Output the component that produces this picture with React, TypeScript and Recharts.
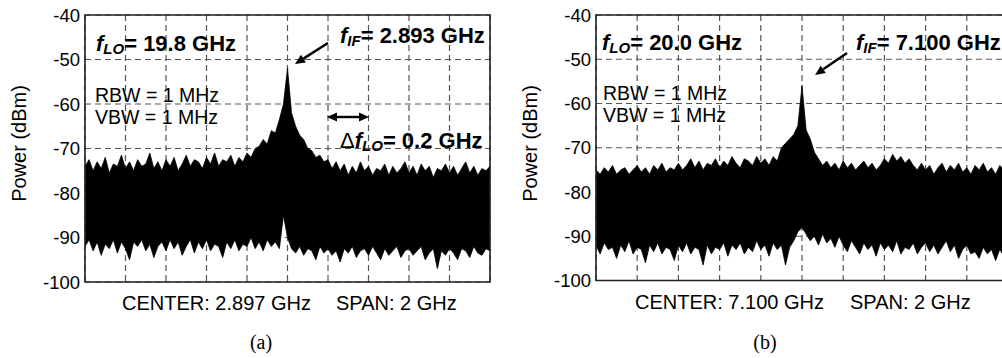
import React from 'react';
import { ComposedChart, Area, XAxis, YAxis, CartesianGrid, ReferenceArea } from 'recharts';

// spectrum analyser traces, 101 samples across a 2 GHz span (20 MHz apart)
const spanStepGHz = 0.02;
const startA = 1.897;
const startB = 6.1;

const powerTicks = [-100, -90, -80, -70, -60, -50, -40];
const freqTicksA = [1.897, 2.097, 2.297, 2.497, 2.697, 2.897, 3.097, 3.297, 3.497, 3.697, 3.897];
const freqTicksB = [6.1, 6.3, 6.5, 6.7, 6.9, 7.1, 7.3, 7.5, 7.7, 7.9, 8.1];

// (a) upper / lower envelope of the trace, dBm
const upperA = [
  -74, -72.5, -75, -73, -74.5, -72, -75.5, -73.5, -74, -71.5,
  -74.5, -73, -75, -72.5, -74, -73.5, -71, -74.5, -73, -75,
  -72.5, -74, -72, -75, -73.5, -71.5, -74, -72.5, -73, -74.5,
  -72, -73.5, -71, -74, -72.5, -73, -71.5, -74, -72, -73,
  -71, -72, -70, -69.5, -68, -69, -66, -66.5, -63.5, -60,
  -52, -62, -65, -67, -68, -70, -70.5, -72, -71.5, -73,
  -72.5, -74.5, -73, -75, -73.5, -76, -74, -75.5, -73, -75,
  -74, -76, -74.5, -75, -73.5, -76, -74, -75.5, -74.5, -73,
  -75.5, -74, -76, -73.5, -75, -74, -76.5, -74.5, -75, -73.5,
  -75.5, -74, -76, -74.5, -73, -75.5, -74, -76, -74.5, -75,
  -74,
];
const lowerA = [
  -92, -90.5, -93, -91, -94, -91.5, -92.5, -90.5, -93.5, -91,
  -92.5, -95, -91, -92, -90.5, -93, -91.5, -94.5, -92, -91,
  -93, -90.5, -92.5, -91, -94, -92, -90.5, -93.5, -91, -92.5,
  -90.5, -93, -91.5, -92, -94.5, -91, -92.5, -90.5, -93, -91.5,
  -92, -90, -92.5, -91, -93, -90.5, -92, -91, -92.5, -85,
  -90, -92.5, -93.5, -92, -94, -92.5, -93, -95, -92, -93.5,
  -92.5, -94, -93, -95.5, -92.5, -93.5, -92, -94.5, -93, -92.5,
  -94, -92, -93.5, -95, -92.5, -94, -93, -92, -94.5, -93,
  -92.5, -94, -93, -92, -95, -93.5, -92.5, -97, -93, -94,
  -92.5, -93.5, -95, -92.5, -93, -94.5, -92, -93.5, -94, -92.5,
  -93,
];

// (b)
const upperB = [
  -75, -76, -74.5, -75.5, -74, -76, -75, -74.5, -76, -75,
  -74, -75.5, -74.5, -76, -74, -75, -73.5, -75.5, -74.5, -75,
  -73.5, -75, -74, -72.5, -74.5, -73, -75, -73.5, -74, -72.5,
  -74.5, -73, -74, -72, -73.5, -74.5, -72.5, -73, -74, -72,
  -73.5, -72.5, -74, -72, -73, -70, -69, -68, -67, -65,
  -56, -66, -68, -71, -72.5, -74, -73, -74.5, -73.5, -75,
  -73, -74.5, -73.5, -75, -74, -73, -74.5, -73.5, -75, -74,
  -72.5, -73.5, -71.5, -73, -72, -73.5, -72.5, -74, -75, -73.5,
  -75, -74, -76, -74.5, -73.5, -75.5, -74, -75, -73.5, -75.5,
  -74.5, -76, -74, -75, -73.5, -75.5, -74.5, -76, -74, -75,
  -74.5,
];
const lowerB = [
  -92, -94, -91.5, -93, -92.5, -95, -92, -93.5, -91, -94,
  -92.5, -93, -96, -92, -93.5, -91.5, -94, -92.5, -93, -95.5,
  -92, -93.5, -91.5, -94, -92.5, -93, -96.5, -92, -94, -92.5,
  -93, -91.5, -94.5, -92, -93, -91.5, -94, -92.5, -93.5, -91,
  -93, -92, -94.5, -91.5, -93, -92, -96.5, -92.5, -91, -89,
  -88, -89.5, -91, -90, -92, -89.5, -91.5, -90.5, -92.5, -90,
  -92, -93.5, -91, -92.5, -94, -91.5, -93, -92, -94.5, -91.5,
  -93, -92, -93.5, -91, -94, -92.5, -93, -91.5, -94, -92.5,
  -91.5, -93.5, -92, -94, -92.5, -91, -93.5, -92, -95, -93,
  -92, -94, -93.5, -95, -92.5, -94, -93, -95.5, -93, -94.5,
  -93.5,
];

const FONT = "'Liberation Sans', Arial, Helvetica, sans-serif";

const toRows = (start: number, upper: number[], lower: number[]) =>
  upper.map((hi, i) => ({ f: +(start + i * spanStepGHz).toFixed(3), range: [lower[i], hi] }));

const dataA = toRows(startA, upperA, lowerA);
const dataB = toRows(startB, upperB, lowerB);

interface PanelProps {
  data: { f: number; range: number[] }[];
  ticks: number[];
  left: number;
  width: number;
  marginLeft: number;
  marginRight: number;
  marginBottom: number;
}

const Panel: React.FC<PanelProps> = ({ data, ticks, left, width, marginLeft, marginRight, marginBottom }) => {
  // vertical divisions go through the x axis scale
  const vGen = (props: any) => {
    const scale = props?.xAxis?.scale;
    if (typeof scale === 'function') return ticks.map((t) => scale(t));
    if (scale && typeof scale.map === 'function') return ticks.map((t) => scale.map(t));
    return [];
  };
  return (
    <div style={{ position: 'absolute', left, top: 0 }}>
      <ComposedChart
        width={width}
        height={358}
        data={data}
        margin={{ top: 15, right: marginRight, bottom: marginBottom, left: marginLeft }}
      >
        <CartesianGrid
          stroke="#555"
          strokeWidth={1.2}
          strokeDasharray="6 4"
          verticalCoordinatesGenerator={vGen}
        />
        <XAxis
          type="number"
          dataKey="f"
          domain={[ticks[0], ticks[ticks.length - 1]]}
          ticks={ticks}
          tick={() => <g />}
          axisLine={false}
          tickLine={false}
          height={0}
        />
        <YAxis
          type="number"
          domain={[-100, -40]}
          ticks={powerTicks}
          width={60}
          axisLine={false}
          tickLine={false}
          tickSize={0}
          tickMargin={5}
          tick={{ fontSize: 18.5, fill: '#000', fontFamily: FONT }}
        />
        <Area
          type="linear"
          dataKey="range"
          stroke="#000"
          strokeWidth={0.8}
          fill="#000"
          fillOpacity={1}
          dot={false}
          activeDot={false}
          isAnimationActive={false}
        />
        <ReferenceArea
          x1={ticks[0]}
          x2={ticks[ticks.length - 1]}
          y1={-100}
          y2={-40}
          fill="none"
          stroke="#222"
          strokeWidth={1.6}
          ifOverflow="visible"
        />
      </ComposedChart>
    </div>
  );
};

const Arrow: React.FC<{ x1: number; y1: number; x2: number; y2: number; both?: boolean }> = ({ x1, y1, x2, y2, both }) => {
  const len = Math.hypot(x2 - x1, y2 - y1);
  const ux = (x2 - x1) / len;
  const uy = (y2 - y1) / len;
  const hl = 10;
  const hw = 4.5;
  const head = (tx: number, ty: number, dx: number, dy: number) => {
    const bx = tx - dx * hl;
    const by = ty - dy * hl;
    return `${tx},${ty} ${bx - dy * hw},${by + dx * hw} ${bx + dy * hw},${by - dx * hw}`;
  };
  const sx = both ? x1 + ux * hl : x1;
  const sy = both ? y1 + uy * hl : y1;
  return (
    <g>
      <line x1={sx} y1={sy} x2={x2 - ux * hl} y2={y2 - uy * hl} stroke="#000" strokeWidth={2.4} />
      <polygon points={head(x2, y2, ux, uy)} fill="#000" />
      {both && <polygon points={head(x1, y1, -ux, -uy)} fill="#000" />}
    </g>
  );
};

const FreqLabel: React.FC<{ x: number; y: number; sub: string; rest: string; delta?: boolean }> = ({ x, y, sub, rest, delta }) => (
  <text x={x} y={y} fontFamily={FONT} fontSize={22} fontWeight="bold" fill="#000">
    {delta && <tspan fontWeight="normal">Δ</tspan>}
    <tspan fontStyle="italic">f</tspan>
    <tspan fontStyle="italic" fontSize={15} dy={3}>{sub}</tspan>
    <tspan dy={-3}>{rest}</tspan>
  </text>
);

const App: React.FC = () => (
  <div style={{ position: 'absolute', left: 0, top: 0, width: 1002, height: 358, overflow: 'hidden', background: '#fff', fontFamily: FONT }}>
    <Panel data={dataA} ticks={freqTicksA} left={0} width={500} marginLeft={25} marginRight={10} marginBottom={76} />
    <Panel data={dataB} ticks={freqTicksB} left={500} width={520} marginLeft={36} marginRight={12} marginBottom={77.5} />

    <svg width={1002} height={358} style={{ position: 'absolute', left: 0, top: 0, pointerEvents: 'none' }}>
      {/* axis titles */}
      <text x={19} y={143.5} transform="rotate(-90 19 143.5)" textAnchor="middle" dominantBaseline="central" fontFamily={FONT} fontSize={20} fill="#000">Power (dBm)</text>
      <text x={530} y={143.5} transform="rotate(-90 530 143.5)" textAnchor="middle" dominantBaseline="central" fontFamily={FONT} fontSize={20} fill="#000">Power (dBm)</text>

      <text x={122} y={309.5} fontFamily={FONT} fontSize={20} fill="#000">CENTER: 2.897 GHz</text>
      <text x={336} y={309.5} fontFamily={FONT} fontSize={20} fill="#000">SPAN: 2 GHz</text>
      <text x={635} y={308.5} fontFamily={FONT} fontSize={20} fill="#000">CENTER: 7.100 GHz</text>
      <text x={850} y={308.5} fontFamily={FONT} fontSize={20} fill="#000">SPAN: 2 GHz</text>

      <text x={261} y={349} textAnchor="middle" fontFamily="'Liberation Serif', 'Times New Roman', serif" fontSize={20} fill="#000">(a)</text>
      <text x={765} y={349} textAnchor="middle" fontFamily="'Liberation Serif', 'Times New Roman', serif" fontSize={20} fill="#000">(b)</text>

      {/* panel (a) annotations */}
      <FreqLabel x={96} y={51} sub="LO" rest="= 19.8 GHz" />
      <text x={95} y={102} fontFamily={FONT} fontSize={19.5} fill="#000">RBW = 1 MHz</text>
      <text x={95} y={124} fontFamily={FONT} fontSize={19.5} fill="#000">VBW = 1 MHz</text>
      <FreqLabel x={340} y={43} sub="IF" rest="= 2.893 GHz" />
      <Arrow x1={328} y1={43} x2={295} y2={64} />
      <Arrow x1={327} y1={117} x2={369} y2={117} both />
      <FreqLabel x={340} y={148} sub="LO" rest="= 0.2 GHz" delta />

      {/* panel (b) annotations */}
      <FreqLabel x={602} y={49.5} sub="LO" rest="= 20.0 GHz" />
      <text x={603} y={100} fontFamily={FONT} fontSize={19.5} fill="#000">RBW = 1 MHz</text>
      <text x={603} y={122} fontFamily={FONT} fontSize={19.5} fill="#000">VBW = 1 MHz</text>
      <FreqLabel x={856} y={49.5} sub="IF" rest="= 7.100 GHz" />
      <Arrow x1={847} y1={53} x2={815} y2={75} />
    </svg>
  </div>
);

export default App;
